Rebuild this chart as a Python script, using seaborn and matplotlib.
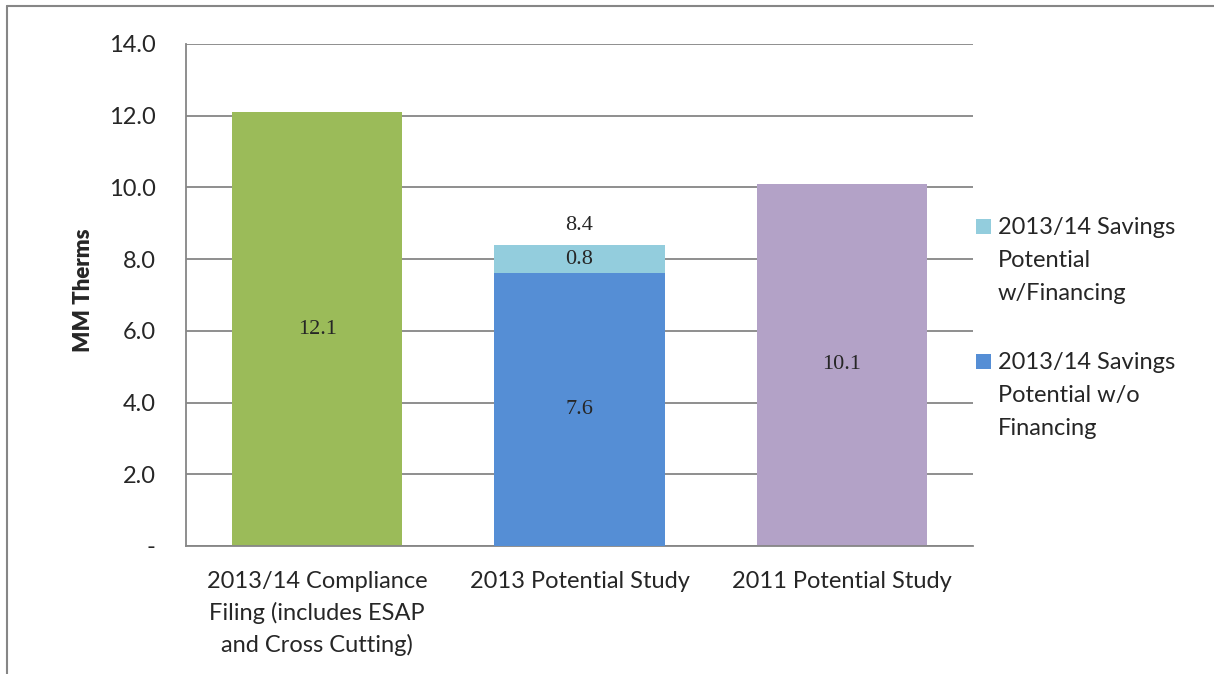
import matplotlib
matplotlib.use("Agg")
import matplotlib.pyplot as plt
from matplotlib.lines import Line2D
from matplotlib.patches import Rectangle
import seaborn as sns

# chart values
categories = ["2013/14 Compliance\nFiling (includes ESAP\nand Cross Cutting)",
              "2013 Potential Study", "2011 Potential Study"]
totals = [12.1, 8.4, 10.1]
without_financing = 7.6
with_financing = 0.8
legend_labels = ["2013/14 Savings\nPotential\nw/Financing",
                 "2013/14 Savings\nPotential w/o\nFinancing"]
y_ticks = [0, 2, 4, 6, 8, 10, 12, 14]

green = "#9BBB59"
light_blue = "#93CDDD"
blue = "#558ED5"
purple = "#B3A2C7"
grid_gray = "#868686"

sns.set_style("white")
plt.rcParams["font.family"] = ["Lato", "DejaVu Sans"]

W, H = 1214, 674
fig = plt.figure(figsize=(W / 100, H / 100), dpi=100)
ax = fig.add_axes([186 / W, 128 / H, 787 / W, 502 / H])

# full-height bars (top segment of the stacked bar is the light blue one)
sns.barplot(x=categories, y=totals, hue=categories, palette=[green, light_blue, purple],
            legend=False, width=0.65, saturation=1, linewidth=0, ax=ax, zorder=2)
# lower segment of the stacked bar
sns.barplot(x=[categories[1]], y=[without_financing], order=categories, color=blue,
            width=0.65, saturation=1, linewidth=0, ax=ax, zorder=3)

ax.set_xlim(-0.5, 2.5)
ax.set_ylim(0, 14)
ax.set_yticks(y_ticks)
ax.set_yticklabels(["-"] + [f"{v:.1f}" for v in y_ticks[1:]])
ax.yaxis.grid(True, color=grid_gray, linewidth=1.3, zorder=0)
ax.set_axisbelow(True)
for side in ["top", "right"]:
    ax.spines[side].set_visible(False)
for side in ["left", "bottom"]:
    ax.spines[side].set_color(grid_gray)
    ax.spines[side].set_linewidth(1.3)
ax.tick_params(axis="y", length=0, pad=22, labelsize=17)
ax.tick_params(axis="x", length=0, pad=18, labelsize=17)
for lbl in ax.get_xticklabels():
    lbl.set_linespacing(1.56)
ax.set_xlabel("")
ax.set_ylabel("MM Therms", fontsize=16, fontweight="heavy")
ax.yaxis.set_label_coords(-0.117, 0.51)

# data labels
serif = ["Liberation Serif", "DejaVu Serif"]
lab = dict(ha="center", va="center", fontsize=16, family=serif, zorder=5)
ax.text(0, totals[0] / 2, f"{totals[0]:.1f}", **lab)
ax.text(1, without_financing / 2, f"{without_financing:.1f}", **lab)
ax.text(1, without_financing + with_financing / 2, f"{with_financing:.1f}", **lab)
ax.text(1, totals[1] + 0.55, f"{totals[1]:.1f}", **lab)
ax.text(2, totals[2] / 2, f"{totals[2]:.1f}", **lab)

# legend, square next to first line of each label
for label, col, ytop in zip(legend_labels, [light_blue, blue], [219, 354]):
    fig.add_artist(Rectangle((976 / W, 1 - (ytop + 15) / H), 15 / W, 15 / H,
                             transform=fig.transFigure, facecolor=col, edgecolor="none"))
    fig.text(998 / W, 1 - (ytop - 2) / H, label, ha="left", va="top",
             fontsize=17, linespacing=1.7)

# outer frame (left and top edges visible)
fig.add_artist(Line2D([7 / W, 7 / W], [0, 1 - 6 / H], color=grid_gray, linewidth=1.5,
                      transform=fig.transFigure))
fig.add_artist(Line2D([7 / W, 1], [1 - 6 / H, 1 - 6 / H], color=grid_gray, linewidth=1.5,
                      transform=fig.transFigure))

fig.savefig("out.png", dpi=100)
